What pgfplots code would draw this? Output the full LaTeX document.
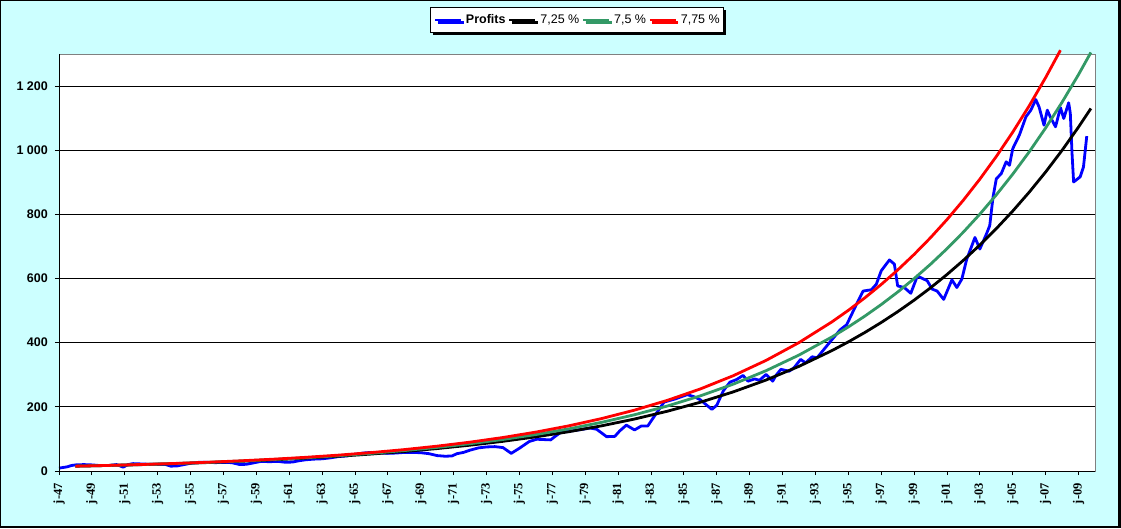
\documentclass[border=0pt]{standalone}
\usepackage{pgfplots}
\pgfplotsset{compat=1.18}
\usepackage{fontspec}
\setmainfont{Liberation Sans}
\newfontfamily\serifb{Liberation Serif}
\usetikzlibrary{shadows}
\definecolor{bgc}{HTML}{CCFFFF}
\definecolor{sgreen}{HTML}{339966}
\begin{document}
\begin{tikzpicture}[x=1pt,y=1pt]
\useasboundingbox (0,0) rectangle (1121,528);
\fill[bgc] (0,0) rectangle (1121,528);
\draw[black, line width=1.2pt] (0.6,0.6) rectangle (1120.4,527.4);
\draw[black, line width=3pt] (1119.5,0) -- (1119.5,528);
\draw[black, line width=2.5pt] (0,1.25) -- (1121,1.25);
\begin{axis}[
  at={(59pt,57pt)}, anchor=south west, scale only axis,
  width=1036pt, height=417pt,
  xmin=1947, xmax=2010, ymin=0, ymax=1300, clip=false,
  axis background/.style={fill=white},
  axis line style={draw=gray, line width=0.8pt},
  ymajorgrids, grid style={black, line width=0.8pt},
  tick align=outside, major tick length=4pt,
  xtick pos=bottom, ytick pos=left,
  tick style={black, line width=0.8pt},
  ytick={0,200,400,600,800,1000,1200},
  yticklabels={0,200,400,600,800,1\ 000,1\ 200},
  yticklabel style={font=\bfseries\fontsize{12.5}{13}\selectfont, inner sep=0pt},
  yticklabel shift=7pt,
  xtick={1947,1949,...,2009},
  xticklabels={j-47,j-49,j-51,j-53,j-55,j-57,j-59,j-61,j-63,j-65,j-67,j-69,j-71,j-73,j-75,j-77,j-79,j-81,j-83,j-85,j-87,j-89,j-91,j-93,j-95,j-97,j-99,j-01,j-03,j-05,j-07,j-09},
  xticklabel style={font=\serifb\bfseries\fontsize{12.5}{12.5}\selectfont, rotate=90, anchor=east, inner sep=0pt},
  xticklabel shift=8pt,
  legend columns=4,
  legend style={at={(0.5,1.0815)}, anchor=center, draw=black, fill=white,
    line width=0.8pt, inner xsep=3pt, inner ysep=6.5pt,
    font=\fontsize{12.5}{13}\selectfont,
    nodes={inner sep=0.5pt},
    drop shadow={shadow xshift=2.5pt, shadow yshift=-2.5pt, fill=black, opacity=1},
    /tikz/every odd column/.append style={column sep=3pt},
    /tikz/every even column/.append style={column sep=2pt}},
  legend image code/.code={\draw[#1] (0pt,0pt) -- (26pt,0pt);},
  every axis plot/.append style={line width=2.8pt, line join=round},
]
\addplot[blue] coordinates {
(1947.0,9)(1947.25,11)(1947.5,13)(1947.75,17)(1948.0,19)(1948.5,20)(1949.0,19)(1949.5,17)(1950.0,17)(1950.5,20)(1950.9,12)(1951.2,20)(1951.5,23)(1952.0,22)(1952.5,21)(1953.0,21)(1953.5,20)(1953.8,15)(1954.2,16)(1954.6,20)(1955.0,24)(1955.5,27)(1956.0,27)(1956.5,26)(1957.0,27)(1957.5,26)(1958.0,20)(1958.4,21)(1958.8,25)(1959.3,30)(1959.8,29)(1960.3,30)(1960.8,27)(1961.2,28)(1961.6,32)(1962.0,35)(1962.5,37)(1963.0,38)(1963.5,41)(1964.0,45)(1964.5,47)(1965.0,52)(1965.5,56)(1966.0,58)(1966.5,57)(1967.0,55)(1967.5,56)(1968.0,58)(1968.5,58)(1969.0,57)(1969.5,54)(1970.0,48)(1970.5,46)(1970.9,47)(1971.2,54)(1971.6,58)(1972.0,65)(1972.5,72)(1973.0,75)(1973.5,76)(1974.0,73)(1974.5,55)(1975.0,71)(1975.6,92)(1976.05,99)(1976.9,97)(1977.2,109)(1977.5,120)(1978.0,124)(1978.7,129)(1979.3,134)(1979.7,130)(1980.3,107)(1980.8,108)(1981.1,125)(1981.5,143)(1982.0,128)(1982.4,140)(1982.8,140)(1983.3,178)(1983.8,215)(1984.5,225)(1985.2,238)(1985.6,232)(1986.0,222)(1986.7,192)(1987.0,205)(1987.4,250)(1987.8,277)(1988.2,285)(1988.6,298)(1988.9,280)(1989.3,287)(1989.6,283)(1990.0,301)(1990.4,280)(1990.6,298)(1990.9,317)(1991.4,311)(1991.7,322)(1992.1,348)(1992.4,337)(1992.8,356)(1993.1,353)(1993.5,378)(1993.9,403)(1994.5,440)(1994.9,456)(1995.5,520)(1995.9,561)(1996.4,565)(1996.7,582)(1997.0,624)(1997.5,658)(1997.8,645)(1998.0,577)(1998.4,572)(1998.8,554)(1999.2,608)(1999.8,593)(2000.1,567)(2000.4,561)(2000.8,535)(2001.3,596)(2001.6,572)(2001.9,598)(2002.2,660)(2002.7,728)(2003.0,692)(2003.4,739)(2003.6,765)(2003.8,854)(2004.0,911)(2004.3,927)(2004.6,964)(2004.8,953)(2005.0,1005)(2005.4,1047)(2005.8,1104)(2006.1,1125)(2006.4,1158)(2006.6,1135)(2006.9,1078)(2007.1,1125)(2007.3,1102)(2007.6,1073)(2007.9,1133)(2008.1,1099)(2008.4,1148)(2008.5,1115)(2008.6,995)(2008.7,901)(2009.1,917)(2009.3,948)(2009.5,1044)
};
\addlegendentry{\textbf{Profits}}
\addplot[black] coordinates {
(1948,15)(1950,17.25)(1952,19.85)(1954,22.83)(1956,26.26)(1958,30.20)(1960,34.74)(1962,39.96)(1964,45.97)(1966,52.87)(1968,60.82)(1970,69.96)(1972,80.47)(1974,92.56)(1976,106.47)(1978,122.46)(1980,140.86)(1982,162.03)(1984,186.38)(1986,214.38)(1988,246.59)(1990,283.64)(1992,326.26)(1994,375.29)(1995,402.50)(1996,431.68)(1997,462.98)(1998,496.54)(1999,532.54)(2000,571.15)(2001,612.56)(2002,656.97)(2003,704.60)(2004,755.68)(2005,810.47)(2006,869.22)(2007,932.24)(2008,999.83)(2009,1072.32)(2009.75,1130.1)
};
\addlegendentry{7,25 \%}
\addplot[sgreen] coordinates {
(1948,15)(1950,17.33)(1952,20.03)(1954,23.15)(1956,26.75)(1958,30.92)(1960,35.73)(1962,41.29)(1964,47.71)(1966,55.14)(1968,63.72)(1970,73.63)(1972,85.09)(1974,98.33)(1976,113.64)(1978,131.32)(1980,151.76)(1982,175.38)(1984,202.67)(1986,234.21)(1988,270.66)(1990,312.78)(1992,361.46)(1994,417.71)(1995,449.04)(1996,482.71)(1997,518.91)(1998,557.84)(1999,599.68)(2000,644.65)(2001,693.00)(2002,744.97)(2003,800.84)(2004,860.91)(2005,925.48)(2006,994.89)(2007,1069.51)(2008,1149.72)(2009,1235.95)(2009.75,1304.8)
};
\addlegendentry{7,5 \%}
\addplot[red] coordinates {
(1948,15)(1950,17.42)(1952,20.22)(1954,23.47)(1956,27.25)(1958,31.64)(1960,36.74)(1962,42.65)(1964,49.52)(1966,57.49)(1968,66.75)(1970,77.49)(1972,89.97)(1974,104.46)(1976,121.28)(1978,140.80)(1980,163.47)(1982,189.79)(1984,220.35)(1986,255.83)(1988,297.02)(1990,344.84)(1992,400.36)(1994,464.82)(1995,500.84)(1996,539.66)(1997,581.48)(1998,626.55)(1999,675.11)(2000,727.43)(2001,783.80)(2002,844.55)(2003,910.00)(2004,980.52)(2005,1056.51)(2006,1138.39)(2007,1226.62)(2007.9,1311.8)
};
\addlegendentry{7,75 \%}
\draw[black, line width=0.8pt] (rel axis cs:0,1) -- (rel axis cs:0,0) -- (rel axis cs:1,0);
\end{axis}
\end{tikzpicture}
\end{document}
